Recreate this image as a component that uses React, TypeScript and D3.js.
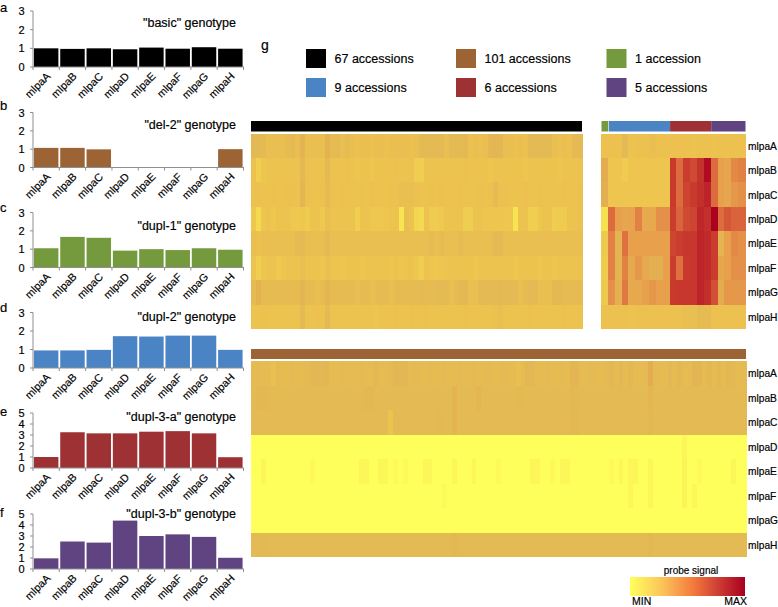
import React from "react";
import * as d3 from "d3";

const genes = ["mlpaA", "mlpaB", "mlpaC", "mlpaD", "mlpaE", "mlpaF", "mlpaG", "mlpaH"];

const basicValues = [1.0, 0.97, 1.0, 0.95, 1.04, 0.98, 1.06, 0.98];
const del2Values = [1.07, 1.07, 0.99, 0, 0, 0, 0, 1.0];
const dupl1Values = [1.05, 1.67, 1.62, 0.92, 1.0, 0.95, 1.05, 0.97];
const dupl2Values = [0.95, 0.95, 0.98, 1.72, 1.7, 1.75, 1.75, 0.98];
const dupl3aValues = [1.0, 3.25, 3.15, 3.15, 3.3, 3.35, 3.15, 0.98];
const dupl3bValues = [0.97, 2.5, 2.4, 4.4, 3.0, 3.15, 2.92, 1.02];

const panels = [
  { letter: "a", title: '"basic" genotype', values: basicValues, color: "#000000", max: 3, y0: 67, yTop: 11, ly: 12, ty: 27 },
  { letter: "b", title: '"del-2" genotype', values: del2Values, color: "#9C6434", max: 3, y0: 167.5, yTop: 112.5, ly: 110, ty: 129 },
  { letter: "c", title: '"dupl-1" genotype', values: dupl1Values, color: "#759A3E", max: 3, y0: 267.5, yTop: 212.5, ly: 212, ty: 230 },
  { letter: "d", title: '"dupl-2" genotype', values: dupl2Values, color: "#4A84C4", max: 3, y0: 368, yTop: 312.5, ly: 312, ty: 321 },
  { letter: "e", title: '"dupl-3-a" genotype', values: dupl3aValues, color: "#9D3134", max: 5, y0: 468, yTop: 413, ly: 416, ty: 421 },
  { letter: "f", title: '"dupl-3-b" genotype', values: dupl3bValues, color: "#5F4481", max: 5, y0: 569, yTop: 514, ly: 517, ty: 518 },
];

const legendEntries = [
  { label: "67 accessions", color: "#000000", col: 0, row: 0 },
  { label: "101 accessions", color: "#9C6434", col: 1, row: 0 },
  { label: "1 accession", color: "#759A3E", col: 2, row: 0 },
  { label: "9 accessions", color: "#4A84C4", col: 0, row: 1 },
  { label: "6 accessions", color: "#9D3134", col: 1, row: 1 },
  { label: "5 accessions", color: "#5F4481", col: 2, row: 1 },
];

const stripGroups = [
  { n: 1, color: "#759A3E" },
  { n: 9, color: "#4A84C4" },
  { n: 6, color: "#9D3134" },
  { n: 5, color: "#5F4481" },
];

// upper left heat map: 67 accessions, rows mlpaA..mlpaH
const leftA = [26,26,25,23,23,23,23,24,25,23, 30,23,23,23,23,31,24,25,23,24, 23,22,23,23,22,23,23,22,23,23, 23,23,22,23,25,25,25,25,25,23, 25,25,25,26,22,23,22,23,27,28, 27,23,23,22,23,22,25,25,25,25, 25,23,22,23,22,25,25];
const leftB = [22,15,20,21,21,21,21,21,21,21, 26,22,21,21,21,25,21,21,21,22, 21,20,21,21,20,21,21,21,21,22, 21,21,22,16,15,21,21,21,21,21, 21,21,21,22,21,21,21,21,20,21, 21,21,21,21,21,20,21,21,21,21, 21,21,20,21,21,21,21];
const leftC = [22,22,21,21,22,21,21,22,22,21, 28,22,21,21,22,24,22,21,22,21, 21,21,22,21,22,21,21,21,22,22, 23,23,23,22,21,21,22,21,22,21, 21,21,22,21,21,21,22,21,22,24, 22,22,21,21,21,22,21,21,22,21, 21,21,21,22,21,21,22];
const leftD = [19,12,20,21,19,21,21,21,19,18, 19,17,21,21,18,23,21,21,21,21, 21,15,21,21,19,19,19,20,21,21, 9,23,21,13,12,21,17,17,18,21, 21,21,21,16,16,21,21,20,20,20, 20,19,19,9,21,21,15,15,19,21, 21,16,17,17,21,21,22];
const leftE = [23,22,23,23,23,23,23,23,23,24, 25,23,23,23,23,25,23,23,23,23, 23,23,23,23,23,23,23,23,23,23, 23,23,23,23,23,23,24,23,24,23, 23,23,24,23,23,23,23,23,23,25, 25,23,23,23,23,23,23,23,23,23, 23,23,23,23,23,23,23];
const leftF = [21,15,20,21,21,18,20,21,21,21, 23,21,21,21,20,23,21,21,20,21, 21,21,20,21,21,21,21,21,20,21, 20,21,21,19,15,21,20,19,20,21, 21,21,21,21,21,20,21,21,21,21, 21,21,21,20,21,21,21,21,20,21, 21,20,21,21,21,21,21];
const leftG = [24,31,24,24,24,24,24,24,24,24, 28,24,24,23,24,28,24,24,24,24, 24,23,24,24,23,24,24,24,23,24, 24,24,24,24,25,24,24,25,25,25, 23,24,26,26,23,23,25,25,25,25, 26,25,25,25,23,24,25,25,23,23, 23,26,26,24,24,24,24];
const leftH = [21,21,22,21,21,21,21,21,21,21, 25,21,21,22,21,25,21,21,21,21, 21,21,21,21,21,20,21,21,21,22, 21,21,22,21,21,22,21,21,21,21, 21,21,21,22,21,21,21,21,21,22, 23,21,21,21,21,21,22,21,21,21, 21,21,21,22,21,21,21];

// upper right heat map: 21 accessions
const rightA = [22, 22,22,25,21,22,22,23,22,22, 22,22,22,21,22,22, 21,22,22,22,22];
const rightB = [34, 20,20,17,20,20,20,20,20,20, 68,52,66,62,74,95, 52,38,36,44,46];
const rightC = [33, 20,20,20,20,20,20,20,20,20, 68,52,64,68,76,84, 52,38,36,40,42];
const rightD = [10, 52,38,36,37,46,35,35,42,42, 66,54,62,64,82,76, 100,52,58,54,54];
const rightE = [18, 46,30,50,38,38,38,38,38,38, 64,66,70,70,84,80, 66,30,38,44,42];
const rightF = [17, 46,30,46,35,40,35,33,33,38, 66,50,68,70,84,80, 66,36,38,42,42];
const rightG = [18, 42,32,48,35,35,38,40,38,38, 68,70,70,70,84,76, 60,34,40,40,40];
const rightH = [22, 22,22,22,21,22,22,22,22,22, 22,22,23,23,24,24, 22,22,22,22,22];

// lower heat map: 101 accessions
const lowA = [24,25,24,24,23,25,24,24,25,24, 24,25,27,27,27,28,24,24,25,24, 24,24,25,24,24,27,24,24,25,27, 27,27,24,25,24,24,25,24,24,25, 24,24,25,24,24,25,24,24,25,24, 24,25,24,24,23,24,27,27,24,24, 25,24,24,25,24,29,28,24,24,25, 24,24,25,27,24,27,24,27,24,24, 25,34,25,24,24,27,24,27,24,24, 28,28,24,27,24,27,24,27,26,24, 25];
const lowB = [25,27,27,26,25,25,25,25,25,25, 25,25,25,25,25,25,25,25,25,25, 25,25,25,27,27,25,25,25,25,25, 25,25,25,25,25,25,25,25,25,25, 25,30,25,25,25,25,28,25,25,25, 25,25,25,25,26,26,25,25,25,25, 25,25,25,25,25,27,26,25,25,25, 25,25,25,25,25,25,25,25,25,25, 25,29,25,25,25,25,25,25,25,25, 25,25,25,25,25,25,25,25,25,25, 25];
const lowC = [25,25,25,25,25,25,25,25,25,25, 25,25,25,25,25,25,25,25,25,25, 25,25,25,25,25,25,25,25,21,25, 25,25,25,25,25,25,25,25,26,25, 25,30,25,25,25,25,25,25,25,25, 25,25,25,25,25,25,25,25,25,25, 25,25,25,25,25,27,27,25,25,25, 25,25,25,25,25,25,25,25,25,25, 25,27,25,25,25,25,25,25,25,25, 25,25,25,25,25,25,25,25,25,25, 25];
const lowD = [0,0,0,0,0,0,0,0,0,0, 0,0,0,0,0,0,0,0,0,0, 0,0,0,0,0,0,0,0,0,0, 0,0,0,0,0,0,0,0,0,0, 0,0,0,0,0,0,0,0,0,0, 0,0,0,0,0,0,0,0,0,0, 0,0,0,0,0,0,0,0,0,0, 0,0,0,0,0,0,0,0,0,0, 0,0,0,0,0,0,0,0,3,0, 0,0,0,0,0,0,0,0,0,0, 0];
const lowE = [0,0,3,0,0,0,0,0,0,0, 0,0,2,0,0,0,0,0,0,0, 0,0,3,3,0,0,3,3,0,2, 0,2,0,0,0,3,3,0,0,0, 0,3,0,0,0,3,0,0,0,0, 2,0,0,0,0,0,0,3,3,0, 0,2,0,3,3,0,0,0,0,0, 0,0,0,2,0,3,0,3,3,0, 0,3,0,0,0,0,0,0,4,0, 0,2,0,0,0,0,0,0,3,0, 0];
const lowF = [0,0,0,0,0,0,0,0,0,0, 0,0,0,0,0,0,0,0,0,0, 0,0,0,0,0,0,0,0,0,0, 0,0,0,0,0,0,0,0,0,2, 0,0,0,0,0,0,0,0,0,0, 0,0,0,0,0,0,0,0,0,0, 0,0,0,0,0,0,0,0,0,0, 0,0,0,0,0,0,0,3,0,0, 0,3,0,0,0,0,0,0,4,0, 3,0,0,0,0,0,0,0,0,0, 0];
const lowG = [0,0,0,0,0,0,0,0,0,0, 0,0,0,0,0,0,0,0,0,0, 0,0,0,0,0,0,0,0,0,0, 0,0,0,0,0,0,0,0,0,0, 0,0,0,0,0,0,0,0,0,0, 0,0,0,0,0,0,0,0,0,0, 0,0,0,0,0,0,0,0,0,0, 0,0,0,0,0,0,0,0,0,0, 0,0,0,0,0,0,0,0,0,0, 0,0,0,0,0,0,0,0,0,0, 0];
const lowH = [25,25,26,25,25,25,25,25,25,25, 25,25,25,25,25,25,25,25,25,25, 25,25,25,25,25,25,25,25,25,25, 25,25,25,25,25,25,25,25,25,25, 25,27,25,25,25,25,25,25,25,25, 25,25,25,25,25,25,25,25,25,25, 25,25,25,25,25,25,25,25,25,25, 25,25,25,25,25,25,25,25,25,25, 25,27,25,25,25,25,25,25,25,25, 25,25,25,25,25,25,25,25,25,25, 25];

const colorDomain = [0, 8, 15, 22, 25, 33, 38, 50, 66, 84, 100];
const colorRange = ["#FFFF5C", "#F8E850", "#F0CF50", "#ECC14F", "#E3BA54", "#E4AF50", "#E8A04C", "#DE713F", "#CA3D2E", "#BD2429", "#AC0020"];
const gradientOffsets = [0, 0.28, 0.55, 0.76, 1];
const gradientColors = ["#FFFF5C", "#FBC45A", "#F47A3C", "#CF3F34", "#A8001F"];

const FONT = "'Liberation Sans', Arial, sans-serif";
const color = d3.scaleLinear<string>().domain(colorDomain).range(colorRange);

function BarPanel({ p }: { p: (typeof panels)[number] }) {
  const x = d3.scaleBand<string>().domain(genes).range([33, 243.5]).paddingInner(0.07).paddingOuter(0.035);
  const y = d3.scaleLinear().domain([0, p.max]).range([p.y0, p.yTop]);
  const step = x.step();
  const left = x.range()[0];
  return (
    <g>
      <text x={0} y={p.ly} fontSize={13} fill="#000">{p.letter}</text>
      <text x={236} y={p.ty} fontSize={12.5} textAnchor="end" fill="#000">{p.title}</text>
      {genes.map((g, i) => (
        <rect key={g} x={x(g)} y={y(p.values[i])} width={x.bandwidth()} height={y(0) - y(p.values[i])} fill={p.color} />
      ))}
      <line x1={33} x2={33} y1={p.yTop} y2={p.y0} stroke="#8f8f8f" />
      <line x1={33} x2={244} y1={p.y0} y2={p.y0} stroke="#8f8f8f" />
      {y.ticks(p.max).map((t) => (
        <g key={t}>
          <line x1={30} x2={33} y1={y(t)} y2={y(t)} stroke="#8f8f8f" />
          <text x={24.5} y={y(t) + 4} fontSize={11} textAnchor="end" fill="#000">{t}</text>
        </g>
      ))}
      {d3.range(genes.length + 1).map((i) => (
        <line key={i} x1={left + i * step} x2={left + i * step} y1={p.y0} y2={p.y0 + 3} stroke="#8f8f8f" />
      ))}
      {genes.map((g) => {
        const cx = (x(g) as number) + x.bandwidth() / 2 + 5;
        return (
          <text key={g} transform={`translate(${cx},${p.y0 + 10}) rotate(-45)`} fontSize={10.8} textAnchor="end" fill="#000">{g}</text>
        );
      })}
    </g>
  );
}

function Heat({ rows, x0, x1, y0, y1 }: { rows: number[][]; x0: number; x1: number; y0: number; y1: number }) {
  const n = rows[0].length;
  const x = d3.scaleBand<number>().domain(d3.range(n)).range([x0, x1]);
  const y = d3.scaleBand<number>().domain(d3.range(rows.length)).range([y0, y1]);
  return (
    <g shapeRendering="crispEdges">
      {rows.map((row, r) =>
        row.map((v, c) => (
          <rect key={`${r}-${c}`} x={x(c)} y={y(r)} width={x.bandwidth() + 0.6} height={y.bandwidth() + 0.4} fill={color(v)} />
        ))
      )}
    </g>
  );
}

function RowLabels({ y0, y1 }: { y0: number; y1: number }) {
  const y = d3.scaleBand<string>().domain(genes).range([y0, y1]);
  return (
    <g>
      {genes.map((g) => (
        <text key={g} x={748} y={(y(g) as number) + y.bandwidth() / 2 + 4} fontSize={10.2} fill="#000">{g}</text>
      ))}
    </g>
  );
}

export default function App() {
  const total = d3.sum(stripGroups, (d) => d.n);
  const stripX = d3.scaleLinear().domain([0, total]).range([601.5, 745.5]);
  let cum = 0;
  const legendX = [306, 456, 606.5];
  const legendY = [49, 78];
  return (
    <svg width={778} height={607} style={{ position: "absolute", left: 0, top: 0, background: "#fff" }} fontFamily={FONT}>
      <style>{`text{stroke:#000;stroke-width:.18px}`}</style>
      <defs>
        <linearGradient id="signal" x1="0" x2="1" y1="0" y2="0">
          {gradientOffsets.map((o, i) => (
            <stop key={o} offset={o} stopColor={gradientColors[i]} />
          ))}
        </linearGradient>
      </defs>
      {panels.map((p) => (
        <BarPanel key={p.letter} p={p} />
      ))}
      <text x={261} y={50} fontSize={14} fill="#000">g</text>
      {legendEntries.map((e) => (
        <g key={e.label}>
          <rect x={legendX[e.col]} y={legendY[e.row]} width={20} height={19} fill={e.color} />
          <text x={legendX[e.col] + 28.5} y={legendY[e.row] + 13.5} fontSize={12.5} fill="#000">{e.label}</text>
        </g>
      ))}
      <rect x={251} y={121} width={331} height={10.5} fill="#000" />
      {stripGroups.map((g, i) => {
        const a = cum;
        cum += g.n;
        return <rect key={i} x={stripX(a) + (i === 1 ? 0.6 : 0)} y={121} width={stripX(cum) - stripX(a) - (i === 1 ? 0.6 : 0)} height={10.5} fill={g.color} />;
      })}
      <rect x={251} y={349} width={495} height={10} fill="#9C6434" />
      <Heat rows={[leftA, leftB, leftC, leftD, leftE, leftF, leftG, leftH]} x0={251} x1={582} y0={133.5} y1={329} />
      <Heat rows={[rightA, rightB, rightC, rightD, rightE, rightF, rightG, rightH]} x0={601} x1={745} y0={133.5} y1={329} />
      <Heat rows={[lowA, lowB, lowC, lowD, lowE, lowF, lowG, lowH]} x0={251} x1={746} y0={361} y1={557} />
      <RowLabels y0={133.5} y1={329} />
      <RowLabels y0={361} y1={557} />
      <text x={691} y={574} fontSize={10} textAnchor="middle" fill="#000">probe signal</text>
      <rect x={630} y={577} width={115} height={19} fill="url(#signal)" />
      <text x={632} y={604.5} fontSize={10.5} fill="#000">MIN</text>
      <text x={747} y={604.5} fontSize={10.5} textAnchor="end" fill="#000">MAX</text>
    </svg>
  );
}
